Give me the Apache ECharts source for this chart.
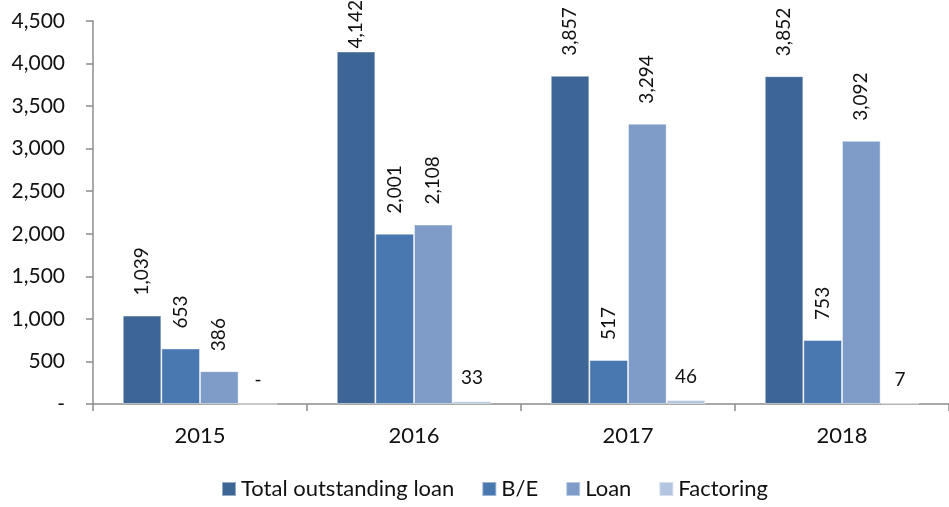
<!DOCTYPE html>
<html>
<head>
<meta charset="utf-8">
<script src="https://cdn.jsdelivr.net/npm/echarts@6/dist/echarts.min.js"></script>
<style>html,body{margin:0;padding:0;background:#fff}#c{width:949px;height:507px}</style>
</head>
<body>
<div id="c"></div>
<script>
const categories = ['2015', '2016', '2017', '2018'];
const seriesNames = ['Total outstanding loan', 'B/E', 'Loan', 'Factoring'];
const totalLoan = [1039, 4142, 3857, 3852];
const billsOfExchange = [653, 2001, 517, 753];
const loan = [386, 2108, 3294, 3092];
const factoring = [0, 33, 46, 7];
const yTicks = [0, 500, 1000, 1500, 2000, 2500, 3000, 3500, 4000, 4500];

const colors = ['#3D6595', '#4977B0', '#7F9CC8', '#B4C5E1'];
const FONT = 'Lato';

function fmt(v) { return v === 0 ? '-' : v.toLocaleString('en-US'); }

function makeData(values) {
  return values.map(v => {
    const item = { value: v };
    if (v < 100) {
      item.label = { rotate: 0, align: 'center', verticalAlign: 'bottom', distance: 14 };
    } else if (v > 4000) {
      item.label = { distance: 3 };
    }
    return item;
  });
}

const allValues = [totalLoan, billsOfExchange, loan, factoring];

const chart = echarts.init(document.getElementById('c'), null, { renderer: 'canvas' });
chart.setOption({
  animation: false,
  textStyle: { fontFamily: FONT },
  grid: { left: 93, right: -9, top: 21, bottom: 103, containLabel: false },
  legend: {
    bottom: 2,
    left: 216,
    icon: 'rect',
    itemWidth: 14,
    itemHeight: 14,
    itemGap: 27,
    textStyle: { fontFamily: FONT, fontSize: 22, color: '#111' },
    data: seriesNames
  },
  xAxis: {
    type: 'category',
    data: categories,
    axisLine: { lineStyle: { color: '#8c8c8c', width: 1.5 } },
    axisTick: { show: true, length: 7, lineStyle: { color: '#8c8c8c', width: 1.5 } },
    axisLabel: { fontFamily: FONT, fontSize: 22, color: '#111', margin: 21 }
  },
  yAxis: {
    type: 'value',
    min: yTicks[0],
    max: yTicks[yTicks.length - 1],
    interval: 500,
    splitLine: { show: false },
    axisLine: { show: true, lineStyle: { color: '#8c8c8c', width: 1.5 } },
    axisTick: { show: true, length: 7, lineStyle: { color: '#8c8c8c', width: 1.5 } },
    axisLabel: { fontFamily: FONT, fontSize: 21, color: '#111', margin: 28, formatter: v => fmt(v) }
  },
  series: seriesNames.map((name, i) => ({
    name: name,
    type: 'bar',
    data: makeData(allValues[i]),
    barGap: '0%',
    barCategoryGap: '27.8%',
    itemStyle: { color: colors[i], borderColor: 'rgba(255,255,255,0.45)', borderWidth: 1 },
    label: {
      show: true,
      position: 'top',
      rotate: 90,
      align: 'left',
      verticalAlign: 'middle',
      distance: 20,
      fontFamily: FONT,
      fontSize: 19,
      color: '#111',
      formatter: p => fmt(p.value)
    }
  }))
});
</script>
</body>
</html>
